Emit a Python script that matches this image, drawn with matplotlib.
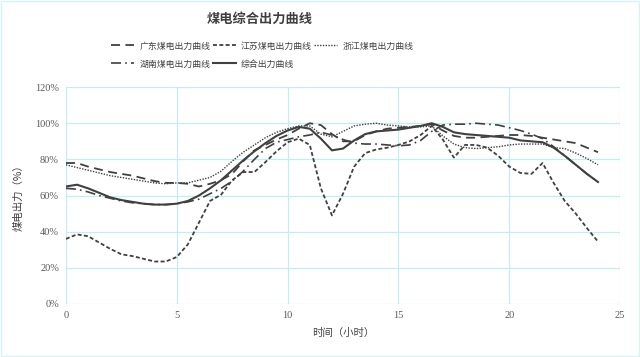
import numpy as np
import matplotlib
matplotlib.use('Agg')
import matplotlib.pyplot as plt

plt.rcParams['font.family'] = ['Noto Sans CJK SC', 'DejaVu Sans']

# hours, every half hour
hours = np.arange(0, 24.5, 0.5)

guangdong = [78, 78, 76, 74.5, 73, 72, 71, 69.5, 68, 67, 67, 66.5, 65, 66.5, 68.5, 72, 79, 85,
             88, 91, 93.5, 97, 100, 99, 94, 90, 90, 93.5, 95.5, 97, 97.5, 98, 98.5, 99.5, 96, 93,
             92, 92, 92.5, 93, 93.5, 93.5, 93, 92, 91, 90, 89, 86.5, 84]
jiangsu = [36, 38.5, 37.5, 34, 30.5, 27.5, 26.5, 25, 23.5, 23.5, 26, 33, 45, 57, 60.5, 68.5, 73, 73,
           78.5, 84.5, 89.5, 91.5, 88, 64, 49, 61, 76, 83.5, 85.5, 86.5, 88, 90, 93.5, 98.5, 91, 81,
           88, 88, 86.5, 82, 76, 72.5, 72, 78, 67, 57, 50, 42, 34.5]
zhejiang = [77, 75.5, 74, 72.5, 71, 70, 69, 68, 67, 66.5, 67, 67, 68.5, 70, 73.5, 79, 84, 88,
            92, 95, 97, 98.5, 98.5, 94, 92.5, 95.5, 98.5, 99.5, 100, 99, 98.5, 98, 98, 98.5, 93, 88.5,
            86.5, 86, 86.5, 87, 88, 88.5, 88.5, 88.5, 86.5, 86, 83.5, 80.5, 77]
hunan = [64, 63.5, 62, 60, 58.5, 57, 56, 55.5, 55, 55, 55.5, 56.5, 58, 61, 64, 68, 73.5, 80,
         86, 89.5, 91, 92.5, 93.5, 95, 93.5, 91, 89, 88.5, 88.5, 88, 87.5, 88, 90.5, 95.5, 99, 99.5,
         99.5, 100, 99.5, 99, 97.5, 96, 94, 91.5, 87, 82, 77, 72, 67.5]
zonghe = [65, 66, 64, 61.5, 59, 57.5, 56.5, 55.5, 55, 55, 55.5, 57, 60, 64, 68.5, 74, 79.5, 84.5,
          89, 93, 96, 98, 97, 91.5, 85, 86, 90.5, 94, 95.5, 96, 96.5, 97.5, 98.5, 100, 98, 95,
          94, 93.5, 93, 92.5, 92, 90.5, 90, 89.5, 86.5, 82, 77, 72, 67.5]

yticks = [0, 20, 40, 60, 80, 100, 120]
xticks = [0, 5, 10, 15, 20, 25]

c = '#404040'
fig = plt.figure(figsize=(6.4, 3.57), dpi=100)
ax = fig.add_axes([0.103, 0.1485, 0.866, 0.6075])

l1, = ax.plot(hours, np.array(guangdong) / 100, color=c, lw=1.3, dashes=(5, 3), label='广东煤电出力曲线')
l2, = ax.plot(hours, np.array(jiangsu) / 100, color=c, lw=1.3, dashes=(2.2, 1.3), label='江苏煤电出力曲线')
l3, = ax.plot(hours, np.array(zhejiang) / 100, color=c, lw=1.0, dashes=(1, 1), label='浙江煤电出力曲线')
l4, = ax.plot(hours, np.array(hunan) / 100, color=c, lw=1.2, dashes=(6, 2.5, 1, 2.5), label='湖南煤电出力曲线')
l5, = ax.plot(hours, np.array(zonghe) / 100, color=c, lw=1.5, label='综合出力曲线')

ax.set_xlim(0, 25)
ax.set_ylim(0, 1.2)
ax.set_xticks(xticks)
ax.set_yticks([v / 100 for v in yticks])
ax.set_yticklabels(['%d%%' % v for v in yticks])
ax.grid(True, color='#c4eeee', lw=0.9)
ax.set_axisbelow(True)
for s in ax.spines.values():
    s.set_visible(False)
ax.tick_params(length=0, labelsize=7.5, labelcolor='#595959', pad=5)
for t in ax.get_xticklabels() + ax.get_yticklabels():
    t.set_family(['Liberation Serif'])

ax.set_xlabel('时间（小时）', fontsize=7.5, color='#404040', labelpad=6)
ax.set_ylabel('煤电出力（%）', fontsize=7.5, color='#404040', labelpad=8)

fig.text(0.405, 0.948, '煤电综合出力曲线', ha='center', va='center', fontsize=9.5,
         fontweight='bold', color='#404040')

fig.legend([l1, l4, l2, l5, l3],
           ['广东煤电出力曲线', '湖南煤电出力曲线', '江苏煤电出力曲线', '综合出力曲线', '浙江煤电出力曲线'],
           ncol=3, loc='center', bbox_to_anchor=(0.41, 0.846), frameon=False, fontsize=6.4,
           handlelength=2.6, handletextpad=0.6, columnspacing=0.25, labelspacing=1.0,
           labelcolor='#404040', borderaxespad=0, borderpad=0)

fig.patches.append(plt.Rectangle((0.002, 0.003), 0.996, 0.994, transform=fig.transFigure,
                                 fill=False, ec='#d6f4f4', lw=1))

fig.savefig('out.png', dpi=100)
